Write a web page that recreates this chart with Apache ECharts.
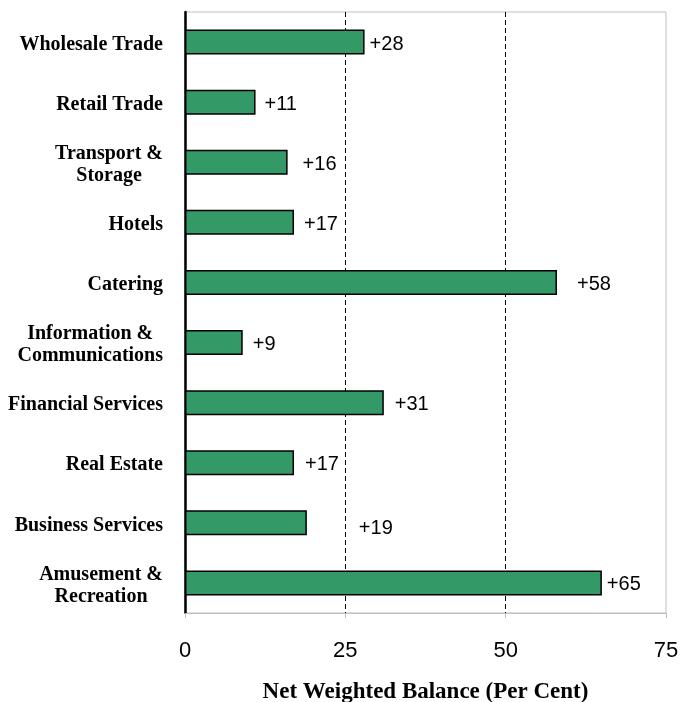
<!DOCTYPE html>
<html>
<head>
<meta charset="utf-8">
<script src="https://cdn.jsdelivr.net/npm/echarts@6/dist/echarts.min.js"></script>
<style>html,body{margin:0;padding:0;background:#fff;}#c{width:682px;height:702px;}</style>
</head>
<body>
<div id="c"></div>
<script>
var categories = ["Wholesale Trade", "Retail Trade", "Transport &\nStorage", "Hotels", "Catering",
  "Information &\nCommunications", "Financial Services", "Real Estate", "Business Services", "Amusement &\nRecreation"];
var values = [28, 11, 16, 17, 58, 9, 31, 17, 19, 65];
var xTicks = [0, 25, 50, 75];
var xTitle = "Net Weighted Balance (Per Cent)";
// per-label nudges [dx, dy] in px (label placement as in the original)
var labelNudge = [[0, 2], [4, 2], [10, 2], [5, 2], [15, 2], [5, 2], [6, 2], [6, 2], [47, 6], [0, 2]];

var serif = "'Liberation Serif', 'Times New Roman', serif";
var sans = "'Liberation Sans', Arial, sans-serif";

var chart = echarts.init(document.getElementById('c'), null, {renderer: 'canvas'});
var data = values.map(function (v, i) {
  return {
    value: v,
    label: {offset: labelNudge[i]}
  };
});
chart.setOption({
  animation: false,
  backgroundColor: '#ffffff',
  grid: {left: 185, right: 16, top: 12, bottom: 89, show: true, borderColor: '#bfbfbf', borderWidth: 1,
    containLabel: false, outerBoundsMode: 'none'},
  xAxis: {
    type: 'value', min: xTicks[0], max: xTicks[xTicks.length - 1], interval: 25,
    axisLine: {show: true, lineStyle: {color: '#bfbfbf', width: 1}},
    axisTick: {show: true, length: 5, lineStyle: {color: '#bfbfbf'}},
    axisLabel: {margin: 27, fontSize: 22, color: '#000', fontFamily: sans},
    splitLine: {show: true, showMinLine: false, showMaxLine: false, lineStyle: {color: '#000', type: [5, 3], width: 1}},
    name: xTitle, nameLocation: 'middle', nameGap: 68,
    nameTextStyle: {fontSize: 23, fontWeight: 'bold', color: '#000', fontFamily: serif}
  },
  yAxis: {
    type: 'category', data: categories, inverse: true,
    axisLine: {show: true, lineStyle: {color: '#000', width: 2.5}},
    axisTick: {show: false},
    splitLine: {show: false},
    axisLabel: {
      margin: 22, color: '#000', fontSize: 20, fontWeight: 'bold', fontFamily: serif, lineHeight: 22,
      padding: [5, 0, 0, 0],
      formatter: function (v) {
        return v.split('\n').map(function (s) { return '{c|' + s + '}'; }).join('\n');
      },
      rich: {c: {align: 'center', fontSize: 20, fontWeight: 'bold', fontFamily: serif, color: '#000', lineHeight: 22}}
    }
  },
  series: [{
    type: 'bar', data: data, barWidth: 25,
    itemStyle: {color: '#339966', borderColor: '#000', borderWidth: 1.5},
    label: {
      show: true, position: 'right', distance: 5, fontSize: 20, color: '#000', fontFamily: sans,
      formatter: function (p) { return '+' + p.value; }
    }
  }]
});
</script>
</body>
</html>
